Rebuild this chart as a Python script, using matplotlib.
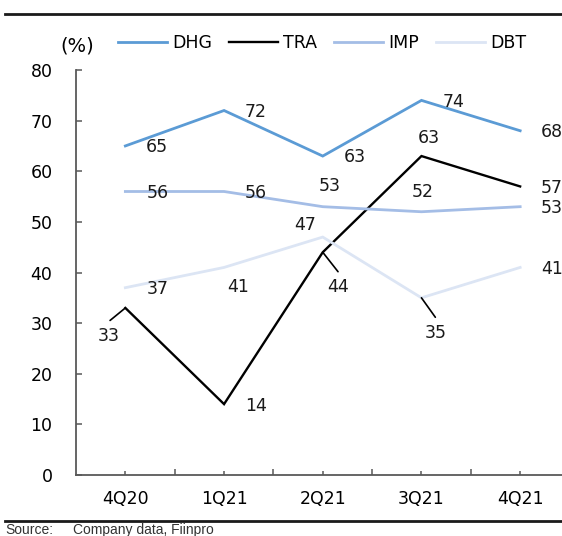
import matplotlib
matplotlib.use("Agg")
import matplotlib.pyplot as plt
from matplotlib.lines import Line2D

quarters = ["4Q20", "1Q21", "2Q21", "3Q21", "4Q21"]
dhg = [65, 72, 63, 74, 68]
tra = [33, 14, 44, 63, 57]
imp = [56, 56, 53, 52, 53]
dbt = [37, 41, 47, 35, 41]

plt.rcParams["font.family"] = ["DejaVu Sans"]
FS = 12.5

fig = plt.figure(figsize=(5.62, 5.36), dpi=100)
ax = fig.add_axes([76 / 562, 61 / 536, 493.5 / 562, 405 / 536])

x = list(range(len(quarters)))
series = [
    ("DHG", dhg, "#5B9BD5", 2.0),
    ("TRA", tra, "#000000", 1.7),
    ("IMP", imp, "#A4BDE6", 2.0),
    ("DBT", dbt, "#DCE5F4", 2.0),
]
for name, vals, col, lw in series:
    ax.plot(x, vals, color=col, lw=lw, solid_joinstyle="miter", label=name, zorder=3)

ax.set_xlim(-0.5, 4.5)
ax.set_ylim(0, 80)
ax.set_yticks(range(0, 81, 10))
ax.set_xticks(x)
ax.set_xticklabels(quarters)
ax.set_xticks([0.5, 1.5, 2.5, 3.5], minor=True)

for side in ("top", "right"):
    ax.spines[side].set_visible(False)
for side in ("left", "bottom"):
    ax.spines[side].set_color("#595959")
    ax.spines[side].set_linewidth(1.3)

ax.tick_params(axis="y", direction="in", length=4, width=1.1, color="#595959",
               pad=17, labelsize=FS)
ax.tick_params(axis="x", which="major", direction="in", length=3, width=1.1,
               color="#595959", pad=11, labelsize=FS)
ax.tick_params(axis="x", which="minor", direction="in", length=4.5, width=1.1,
               color="#595959")

# data labels: offsets in points (dx, dy)
R = (23, -1)
label_pos = {
    "DHG": [R, R, R, R, R],
    "TRA": [(-12, -20), R, (11, -25), (5, 13), R],
    "IMP": [R, R, (5, 15), (1, 14), R],
    "DBT": [R, (10, -14), (-13, 9), (10, -25), R],
}
leaders = {("TRA", 0): (-11, -9), ("TRA", 2): (11, -14), ("DBT", 3): (10, -14)}

for name, vals, col, lw in series:
    for i, v in enumerate(vals):
        dx, dy = label_pos[name][i]
        ax.annotate(str(v), (i, v), xytext=(dx, dy), textcoords="offset points",
                    ha="center", va="center", fontsize=FS, color="#1a1a1a",
                    zorder=5, annotation_clip=False)
        if (name, i) in leaders:
            lx, ly = leaders[(name, i)]
            ax.annotate("", (i, v), xytext=(lx, ly), textcoords="offset points",
                        arrowprops=dict(arrowstyle="-", color="black", lw=1.2,
                                        shrinkA=0, shrinkB=0), zorder=4)

# legend row
fig.text(77 / 562, 1 - 46 / 536, "(%)", ha="center", va="center", fontsize=14)
handles = [Line2D([0], [0], color=c, lw=lw) for _, _, c, lw in series]
fig.legend(handles, [s[0] for s in series], loc="center left",
           bbox_to_anchor=(118 / 562, 1 - 43 / 536), ncol=4, frameon=False,
           fontsize=FS, handlelength=2.8, handletextpad=0.3, columnspacing=1.0,
           borderaxespad=0, borderpad=0)

# frame rules and source line
fig.add_artist(Line2D([5 / 562, 1], [1 - 14 / 536] * 2, color="#1a1a1a", lw=2.0))
fig.add_artist(Line2D([5 / 562, 1], [1 - 521 / 536] * 2, color="#1a1a1a", lw=2.0))
fig.text(5 / 562, 1 - 530 / 536, "Source:", ha="left", va="center",
         fontsize=10, family=["Liberation Sans"], color="#333333")
fig.text(73 / 562, 1 - 530 / 536, "Company data, Fiinpro", ha="left", va="center",
         fontsize=10, family=["Liberation Sans"], color="#333333")

fig.savefig("out.png", dpi=100)
